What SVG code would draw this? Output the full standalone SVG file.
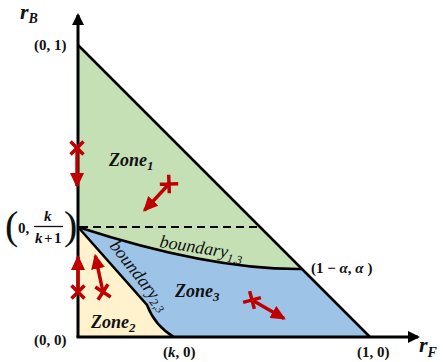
<svg xmlns="http://www.w3.org/2000/svg" width="443" height="362" viewBox="0 0 443 362">
<defs>
<marker id="ah" markerUnits="userSpaceOnUse" markerWidth="15" markerHeight="14" viewBox="0 0 15 14" refX="13" refY="7" orient="auto"><path d="M0,0 L15,7 L0,14 z" fill="#C00000"/></marker>
<marker id="ax" markerUnits="userSpaceOnUse" markerWidth="12" markerHeight="12" viewBox="0 0 12 12" refX="10" refY="6" orient="auto"><path d="M0,0 L12,6 L0,12 z" fill="#000"/></marker>
<path id="xm" d="M-6.5,-6.5 L6.5,6.5 M-6.5,6.5 L6.5,-6.5" stroke="#C00000" stroke-width="3.5" fill="none"/>
</defs>
<style>
.lbl{font-family:"Liberation Serif","DejaVu Serif",serif;font-weight:bold;font-size:15px;fill:#111}
.zone{font-family:"Liberation Serif","DejaVu Serif",serif;font-weight:bold;font-style:italic;font-size:18px;fill:#111}
.bnd{font-family:"Liberation Serif","DejaVu Serif",serif;font-style:italic;font-size:18px;fill:#111}
.ax{font-family:"Liberation Serif","DejaVu Serif",serif;font-weight:bold;font-style:italic;font-size:22px;fill:#111}
.red{stroke:#C00000;stroke-width:3.5;fill:none}
.edge{stroke:#000;stroke-width:2.5;fill:none}
</style>
<g id="zone1"><path d="M78,45 L302,269 Q210,270 78,227 Z" fill="#C5E0B4"/>
<text class="zone" x="109" y="166">Zone<tspan font-size="13" dy="4">1</tspan></text></g>
<g id="zone3"><path d="M78,227 Q210,270 302,269 L370,337 L174,337 Q155,326 147,305 Z" fill="#9DC3E6"/>
<text class="zone" x="175" y="297">Zone<tspan font-size="13" dy="4">3</tspan></text></g>
<g id="zone2"><path d="M78,227 L147,305 Q155,326 174,337 L78,337 Z" fill="#FFF2CC"/>
<text class="zone" x="91" y="328">Zone<tspan font-size="13" dy="4">2</tspan></text></g>
<g id="connectors">
<path class="edge" d="M78,45 L370,337"/>
<path class="edge" d="M78,227 Q210,270 302,269"/>
<path class="edge" d="M78,227 L147,305 Q155,326 174,337"/>
<path d="M80,227 L258,227" stroke="#000" stroke-width="2" stroke-dasharray="8,5"/>
<path d="M78,337 L78,15" stroke="#000" stroke-width="3" marker-end="url(#ax)"/>
<path d="M76.5,337 L418,337" stroke="#000" stroke-width="3" marker-end="url(#ax)"/>
</g>
<g id="boundaries">
<text class="bnd" transform="translate(159,247) rotate(9)">boundary<tspan font-size="12" dy="4">1,3</tspan></text>
<text class="bnd" transform="translate(109,246) rotate(52)">boundary<tspan font-size="12" dy="3">2,3</tspan></text>
</g>
<g id="arrows">
<g transform="translate(77,148) rotate(90)"><path class="red" d="M0,0 L38,0" marker-end="url(#ah)"/><use href="#xm"/></g>
<g transform="translate(169,184) rotate(133)"><path class="red" d="M0,0 L36,0" marker-end="url(#ah)"/><use href="#xm"/></g>
<g transform="translate(78,292) rotate(-90)"><path class="red" d="M0,0 L35,0" marker-end="url(#ah)"/><use href="#xm"/></g>
<g transform="translate(103,292) rotate(-102)"><path class="red" d="M0,0 L37,0" marker-end="url(#ah)"/><use href="#xm"/></g>
<g transform="translate(252,300) rotate(30)"><path class="red" d="M0,0 L37,0" marker-end="url(#ah)"/><use href="#xm"/></g>
</g>
<g id="labels">
<text class="ax" x="20" y="19">r<tspan font-size="14" dy="4">B</tspan></text>
<text class="ax" x="419" y="352">r<tspan font-size="14" dy="5">F</tspan></text>
<text class="lbl" x="34" y="50">(0, 1)</text>
<text class="lbl" x="34" y="345">(0, 0)</text>
<text class="lbl" x="163" y="357">(<tspan font-style="italic">k</tspan>, 0)</text>
<text class="lbl" x="357" y="357">(1, 0)</text>
<text class="lbl" x="311" y="273">(1 − <tspan font-style="italic">α</tspan>, <tspan font-style="italic">α</tspan> )</text>
<text x="5" y="239" font-family="Liberation Serif,serif" font-size="40" fill="#111">(</text>
<text class="lbl" x="18" y="233" font-size="16">0,</text>
<text class="lbl" x="44" y="221" font-size="16" font-style="italic">k</text>
<path d="M34,226.5 L63,226.5" stroke="#111" stroke-width="1.3"/>
<text class="lbl" x="35" y="243" font-size="15"><tspan font-style="italic">k</tspan><tspan dx="1.5">+</tspan><tspan dx="1.5">1</tspan></text>
<text x="64" y="239" font-family="Liberation Serif,serif" font-size="40" fill="#111">)</text>
</g>
</svg>
